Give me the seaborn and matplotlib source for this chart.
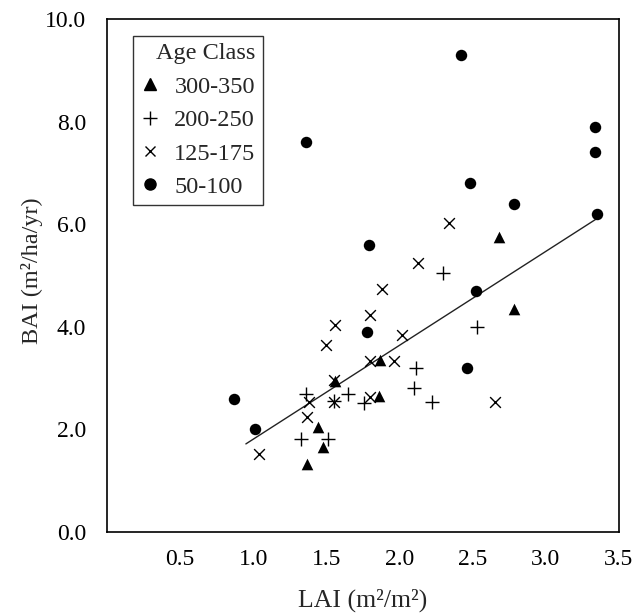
import matplotlib
matplotlib.use("Agg")
import matplotlib.pyplot as plt
import seaborn as sns
import pandas as pd
import numpy as np
from matplotlib.lines import Line2D

# ---- data ----
age_classes = ["300-350", "200-250", "125-175", "50-100"]

lai_300 = [2.68, 2.78, 1.87, 1.56, 1.86, 1.44, 1.48, 1.37]
bai_300 = [5.75, 4.35, 3.35, 2.95, 2.65, 2.05, 1.65, 1.33]

lai_200 = [2.30, 2.53, 2.11, 1.36, 1.65, 1.55, 1.76, 2.10, 2.22, 1.33, 1.51]
bai_200 = [5.05, 4.00, 3.20, 2.70, 2.70, 2.55, 2.52, 2.80, 2.53, 1.82, 1.82]

lai_125 = [2.34, 2.13, 1.88, 1.80, 1.56, 1.50, 2.02, 1.80, 1.96, 1.38, 1.37, 1.55, 1.80, 2.65, 1.04, 1.55]
bai_125 = [6.03, 5.24, 4.73, 4.23, 4.03, 3.64, 3.84, 3.33, 3.33, 2.53, 2.24, 2.54, 2.63, 2.53, 1.52, 2.97]

lai_50 = [2.42, 1.36, 3.34, 3.34, 2.48, 2.78, 3.35, 1.79, 2.52, 1.78, 2.46, 0.87, 1.01]
bai_50 = [9.30, 7.60, 7.90, 7.40, 6.80, 6.40, 6.20, 5.60, 4.70, 3.90, 3.20, 2.60, 2.00]

# fitted regression line
fit_slope = 1.83
fit_intercept = -0.02
fit_lai_range = [0.95, 3.35]

x_ticks = [0.5, 1.0, 1.5, 2.0, 2.5, 3.0, 3.5]
y_ticks = [0.0, 2.0, 4.0, 6.0, 8.0, 10.0]

# ---- build table ----
frames = []
for cls, xs, ys in zip(age_classes, [lai_300, lai_200, lai_125, lai_50],
                       [bai_300, bai_200, bai_125, bai_50]):
    frames.append(pd.DataFrame({"LAI": xs, "BAI": ys, "Age Class": cls}))
df = pd.concat(frames, ignore_index=True)

fit_df = pd.DataFrame({"LAI": fit_lai_range})
fit_df["BAI"] = fit_intercept + fit_slope * fit_df["LAI"]

# ---- style ----
sns.set_style("white")
plt.rcParams["font.family"] = ["Liberation Serif", "DejaVu Serif"]
plt.rcParams["font.size"] = 17

fig = plt.figure(figsize=(6.44, 6.13), dpi=100)
ax = fig.add_axes([0.166, 0.132, 0.795, 0.837])

marker_map = {"300-350": "^", "200-250": "+", "125-175": "x", "50-100": "o"}
size_map = {"300-350": 70, "200-250": 110, "125-175": 60, "50-100": 68}

for cls in age_classes:
    sub = df[df["Age Class"] == cls]
    filled = marker_map[cls] in ("^", "o")
    sns.scatterplot(data=sub, x="LAI", y="BAI", ax=ax,
                    marker=marker_map[cls], s=size_map[cls],
                    color="black", edgecolor="black" if filled else None,
                    linewidth=0 if filled else 1.0, legend=False, zorder=3)

sns.lineplot(data=fit_df, x="LAI", y="BAI", ax=ax, color="#222222",
             linewidth=1.0, legend=False, zorder=2)

ax.set_xlim(0, 3.5)
ax.set_ylim(0, 10)
ax.set_xticks(x_ticks)
ax.set_xticklabels([f"{v:.1f}" for v in x_ticks])
ax.set_yticks(y_ticks)
ax.set_yticklabels([f"{v:.1f}" for v in y_ticks])
ax.tick_params(axis="both", direction="in", length=11, width=1.0,
               colors="black", labelsize=17)
ax.tick_params(axis="x", pad=12.5)
ax.tick_params(axis="y", pad=15)

for sp in ax.spines.values():
    sp.set_color("black")
    sp.set_linewidth(1.2)

ax.set_xlabel("LAI (m²/m²)", fontsize=18.5, labelpad=13)
ax.set_ylabel("BAI (m²/ha/yr)", fontsize=17.5, labelpad=2)
ax.yaxis.set_label_coords(-0.125, 0.51)

handles = [
    Line2D([], [], linestyle="none", marker="^", color="black", markersize=8.5),
    Line2D([], [], linestyle="none", marker="+", color="black", markersize=10, markeredgewidth=1.0),
    Line2D([], [], linestyle="none", marker="x", color="black", markersize=6.5, markeredgewidth=1.0),
    Line2D([], [], linestyle="none", marker="o", color="black", markersize=8),
]
leg = ax.legend(handles, age_classes, title="Age Class", loc="upper left",
                bbox_to_anchor=(0.051, 0.967), borderaxespad=0,
                frameon=True, fancybox=False, edgecolor="black",
                fontsize=17.5, title_fontsize=17.5, handlelength=0.8,
                handletextpad=0.6, labelspacing=0.47, borderpad=0.3,
                alignment="right")
leg.get_frame().set_linewidth(1.0)

fig.savefig("out.png", dpi=100)
